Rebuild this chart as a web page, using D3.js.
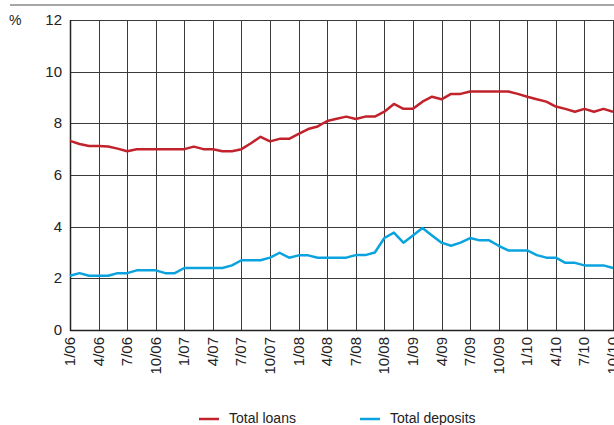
<!DOCTYPE html>
<html>
<head>
<meta charset="utf-8">
<script src="https://cdn.jsdelivr.net/npm/d3@7"></script>
<style>
  body { margin: 0; background: #fff; }
  svg { display: block; font-family: "Liberation Sans", Arial, sans-serif; }
</style>
</head>
<body>
<svg width="614" height="425"></svg>
<script>
// monthly data, 1/06 .. 10/10
const loans = [
    7.32, 7.2, 7.12, 7.12, 7.1, 7.02, 6.92, 7.0, 7.0, 7.0, 7.0, 7.0,
    7.0, 7.1, 7.0, 7.0, 6.92, 6.92, 7.0, 7.23, 7.48, 7.3, 7.4, 7.4,
    7.59, 7.78, 7.88, 8.09, 8.18, 8.26, 8.17, 8.26, 8.26, 8.45, 8.75, 8.56,
    8.56, 8.84, 9.03, 8.93, 9.14, 9.14, 9.23, 9.23, 9.23, 9.23, 9.23, 9.14,
    9.03, 8.93, 8.84, 8.65, 8.56, 8.45, 8.56, 8.45, 8.56, 8.45
];
const deposits = [
    2.1, 2.2, 2.1, 2.1, 2.1, 2.2, 2.2, 2.31, 2.31, 2.31, 2.2, 2.2,
    2.4, 2.4, 2.4, 2.4, 2.4, 2.5, 2.7, 2.7, 2.7, 2.8, 2.99, 2.8,
    2.89, 2.89, 2.8, 2.8, 2.8, 2.8, 2.9, 2.9, 3.0, 3.56, 3.77, 3.38,
    3.66, 3.95, 3.66, 3.38, 3.26, 3.38, 3.56, 3.47, 3.47, 3.26, 3.08, 3.08,
    3.08, 2.9, 2.8, 2.8, 2.6, 2.6, 2.5, 2.5, 2.5, 2.4
];
const xTickLabels = ["1/06", "4/06", "7/06", "10/06", "1/07", "4/07", "7/07", "10/07",
    "1/08", "4/08", "7/08", "10/08", "1/09", "4/09", "7/09", "10/09",
    "1/10", "4/10", "7/10", "10/10"];
const yTicks = [0, 2, 4, 6, 8, 10, 12];
const seriesNames = ["Total loans", "Total deposits"];
const seriesColors = ["#c1222b", "#0aa3df"];

const svg = d3.select("svg");
const plotLeft = 70, plotRight = 613, plotTop = 20, plotBottom = 330;

const x = d3.scaleLinear().domain([0, 57]).range([plotLeft, plotRight]);
const y = d3.scaleLinear().domain([0, 12]).range([plotBottom, plotTop]);

// top rule
svg.append("line")
    .attr("x1", 10).attr("x2", 614)
    .attr("y1", 5).attr("y2", 5)
    .attr("stroke", "#8a8a8a").attr("stroke-width", 1.5);

// grid
const grid = svg.append("g");
grid.selectAll("line.h")
    .data(yTicks)
    .enter().append("line")
    .attr("x1", plotLeft).attr("x2", plotRight)
    .attr("y1", d => Math.round(y(d)) + 0.5)
    .attr("y2", d => Math.round(y(d)) + 0.5)
    .attr("stroke", "#3a3a3a").attr("stroke-width", 1);
grid.selectAll("line.v")
    .data(xTickLabels)
    .enter().append("line")
    .attr("x1", (d, i) => Math.round(x(i * 3)) + 0.5)
    .attr("x2", (d, i) => Math.round(x(i * 3)) + 0.5)
    .attr("y1", plotTop).attr("y2", plotBottom)
    .attr("stroke", "#3a3a3a").attr("stroke-width", 1);

// axes frame
svg.append("line")
    .attr("x1", plotLeft + 0.5).attr("x2", plotLeft + 0.5)
    .attr("y1", plotTop).attr("y2", plotBottom + 1)
    .attr("stroke", "#222").attr("stroke-width", 1.5);
svg.append("line")
    .attr("x1", plotLeft).attr("x2", plotRight + 1)
    .attr("y1", plotBottom + 0.5).attr("y2", plotBottom + 0.5)
    .attr("stroke", "#222").attr("stroke-width", 1.5);

// y labels
svg.append("g")
    .selectAll("text")
    .data(yTicks)
    .enter().append("text")
    .attr("x", 62)
    .attr("y", d => y(d) + 5)
    .attr("text-anchor", "end")
    .attr("font-size", 15)
    .attr("fill", "#222")
    .text(d => d);
svg.append("text")
    .attr("x", 9).attr("y", 25)
    .attr("font-size", 14)
    .attr("fill", "#222")
    .text("%");

// x labels
svg.append("g")
    .selectAll("text")
    .data(xTickLabels)
    .enter().append("text")
    .attr("transform", (d, i) => `translate(${x(i * 3) + 5},${plotBottom + 7}) rotate(-90)`)
    .attr("text-anchor", "end")
    .attr("font-size", 15)
    .attr("fill", "#222")
    .text(d => d);

// lines
const line = d3.line()
    .x((d, i) => x(i))
    .y(d => y(d));
[loans, deposits].forEach((s, k) => {
    svg.append("path")
        .datum(s)
        .attr("d", line)
        .attr("fill", "none")
        .attr("stroke", seriesColors[k])
        .attr("stroke-width", 2.5)
        .attr("stroke-linejoin", "round");
});

// legend
const legendX = [199, 360];
const lg = svg.append("g");
seriesNames.forEach((name, k) => {
    lg.append("line")
        .attr("x1", legendX[k]).attr("x2", legendX[k] + 20)
        .attr("y1", 419).attr("y2", 419)
        .attr("stroke", seriesColors[k]).attr("stroke-width", 2.5);
    lg.append("text")
        .attr("x", legendX[k] + 30).attr("y", 423)
        .attr("font-size", 14)
        .attr("fill", "#222")
        .text(name);
});
</script>
</body>
</html>
